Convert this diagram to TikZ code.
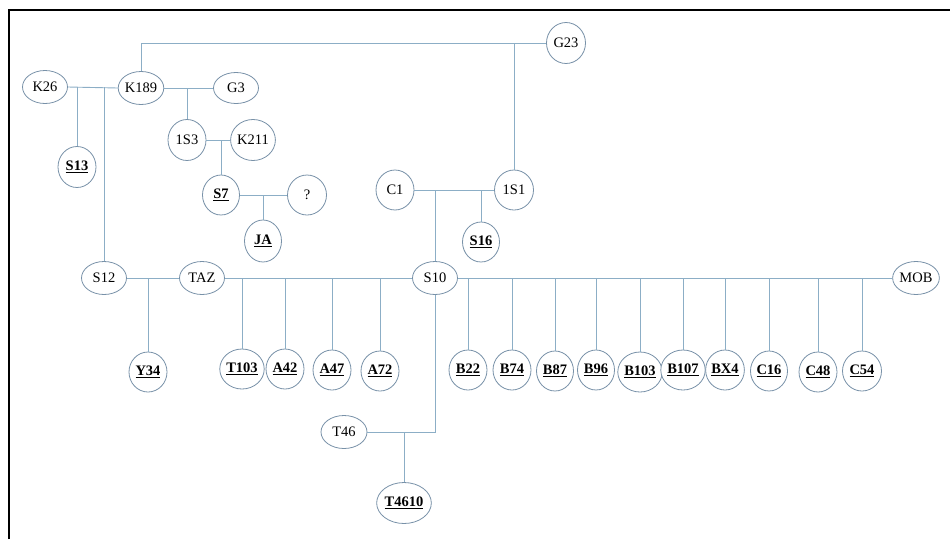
\documentclass[tikz,border=0pt]{standalone}
\usepackage{fontspec}
\setmainfont{Liberation Serif}
\usetikzlibrary{shapes.geometric}
\definecolor{linkblue}{RGB}{140,174,198}
\definecolor{rimblue}{RGB}{120,145,168}
\tikzset{
  person/.style={ellipse, draw=rimblue, line width=0.8pt, fill=white, inner sep=0pt,
    font=\fontsize{14.5}{16}\selectfont, minimum width=#1},
  person/.default=45pt,
  wide/.style={person=45pt, minimum height=33pt},
  round/.style={person=38pt, minimum height=40pt},
  link/.style={draw=linkblue, line width=0.9pt},
}
\newcommand{\kid}[1]{\underline{\textbf{#1}}}
\begin{document}
\begin{tikzpicture}[x=1pt, y=-1pt]
\useasboundingbox (0,0) rectangle (950,539);
\draw[line width=2pt, black] (9,539) -- (9,10) -- (951,10);

% people
\node[wide] (k26) at (45,87) {K26};
\node[wide] (k189) at (141,88) {K189};
\node[wide, minimum height=31pt] (g3) at (236,88) {G3};
\node[round, minimum height=41pt] (s13) at (77,167) {\kid{S13}};
\node[round, minimum height=41pt] (is3) at (187,140) {1S3};
\node[round, minimum width=37pt, minimum height=41pt] (k211) at (253,140) {K211};
\node[round, minimum width=37pt] (s7) at (221,195) {\kid{S7}};
\node[round, minimum width=39pt] (qq) at (307,195) {?};
\node[round, minimum width=37pt, minimum height=42pt] (ja) at (263,241) {\kid{JA}};
\node[round, minimum width=39pt, minimum height=41pt] (g23) at (566,43) {G23};
\node[round] (c1) at (395,190) {C1};
\node[round, minimum width=39pt] (is1) at (514,190) {1S1};
\node[round, minimum width=37pt] (s16) at (481,242) {\kid{S16}};
\node[wide] (s12) at (104,278) {S12};
\node[wide] (taz) at (202,278) {TAZ};
\node[wide] (s10) at (435,278) {S10};
\node[wide, minimum width=46pt] (mob) at (916,278) {MOB};
\node[wide, minimum width=46pt] (t46) at (344,432) {T46};
\node[round, minimum width=53pt, minimum height=41pt] (t4610) at (404,503) {\kid{T4610}};

\node[round] (y34) at (148,372) {\kid{Y34}};
\node[round, minimum width=41pt] (t103) at (242,369) {\kid{T103}};
\node[round] (a42) at (285,369) {\kid{A42}};
\node[round] (a47) at (332,370) {\kid{A47}};
\node[round] (a72) at (380,371) {\kid{A72}};
\node[round] (b22) at (468,370) {\kid{B22}};
\node[round] (b74) at (512,370) {\kid{B74}};
\node[round, minimum width=37pt] (b87) at (555,371) {\kid{B87}};
\node[round, minimum width=37pt] (b96) at (596,370) {\kid{B96}};
\node[round, minimum width=36pt] (b103) at (640,372) {\kid{B103}};
\node[round, minimum width=37pt] (b107) at (683,370) {\kid{B107}};
\node[round, minimum width=35pt] (bx4) at (725,370) {\kid{BX4}};
\node[round, minimum width=37pt] (c16) at (769,371) {\kid{C16}};
\node[round] (c48) at (818,372) {\kid{C48}};
\node[round, minimum width=39pt] (c54) at (862,371) {\kid{C54}};

% couple lines and descent lines
\path[link] (k189.north) |- (g23.west);
\path[link] (is1.north) -- (is1.north |- g23.west);
\path[link] (k26.east) -- (k189.west);
\path[link] (s13.north) -- (s13.north |- k26.east);
\path[link] (s12.north) -- (s12.north |- k26.east);
\path[link] (k189.east) -- (g3.west);
\path[link] (is3.north) -- (is3.north |- g3.west);
\path[link] (is3.east) -- (k211.west);
\path[link] (s7.north) -- (s7.north |- is3.east);
\path[link] (s7.east) -- (qq.west);
\path[link] (ja.north) -- (ja.north |- s7.east);
\path[link] (c1.east) -- (is1.west);
\path[link] (s10.north) -- (s10.north |- c1.east);
\path[link] (s16.north) -- (s16.north |- c1.east);
\path[link] (s12.east) -- (taz.west);
\path[link] (y34.north) -- (y34.north |- s12.east);
\path[link] (taz.east) -- (s10.west);
\foreach \n in {t103,a42,a47,a72}
  \path[link] (\n.north) -- (\n.north |- taz.east);
\path[link] (s10.east) -- (mob.west);
\foreach \n in {b22,b74,b87,b96,b103,b107,bx4,c16,c48,c54}
  \path[link] (\n.north) -- (\n.north |- s10.east);
\path[link] (s10.south) |- (t46.east);
\path[link] (t4610.north) -- (t4610.north |- t46.east);
\end{tikzpicture}
\end{document}
